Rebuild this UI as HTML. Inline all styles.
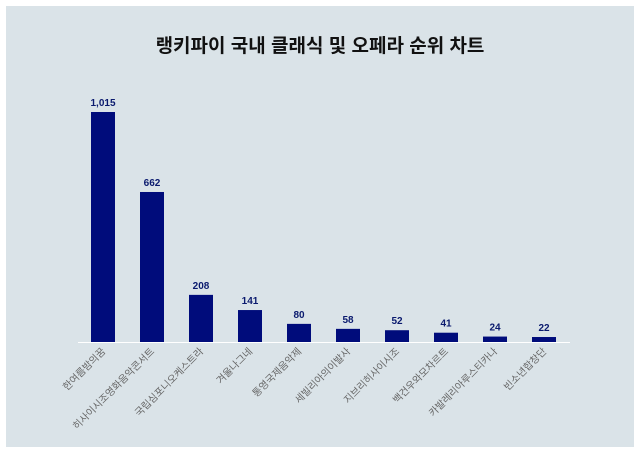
<!DOCTYPE html>
<html><head><meta charset="utf-8"><style>
html,body{margin:0;padding:0;background:#fff;}
svg{display:block;font-family:"Liberation Sans","Noto Sans CJK KR",sans-serif;}
</style></head><body>
<svg width="640" height="453">
<rect x="6" y="6" width="628" height="441" fill="#dae3e8"/>
<text x="320" y="52" text-anchor="middle" font-size="19" font-weight="bold" fill="#111">랭키파이 국내 클래식 및 오페라 순위 차트</text>
<line x1="78" y1="342.5" x2="570" y2="342.5" stroke="#fff" stroke-width="1"/>
<g id="bars"></g>
</svg>
<script>
const categories=["한여름밤의꿈","히사이시조영화음악콘서트","국립심포니오케스트라","겨울나그네","통영국제음악제","세빌리아의이발사","지브리히사이시조","백건우와모차르트","카발레리아루스티카나","빈소년합창단"];
const values=[1015,662,208,141,80,58,52,41,24,22];
const valueLabels=["1,015","662","208","141","80","58","52","41","24","22"];
const g=document.getElementById('bars');
const NS='http://www.w3.org/2000/svg';
const baseY=342,scale=230/1015;
function xCenter(i){return 103+i*49;}
function yPos(v){return baseY-v*scale;}
categories.forEach((c,i)=>{
  const cx=xCenter(i),y=yPos(values[i]);
  const r=document.createElementNS(NS,'rect');
  r.setAttribute('x',cx-12);r.setAttribute('y',y);r.setAttribute('width',24);r.setAttribute('height',baseY-y);
  r.setAttribute('fill','#000c7b');
  
  
  g.appendChild(r);
  const t=document.createElementNS(NS,'text');
  t.setAttribute('x',cx);t.setAttribute('y',y-6);t.setAttribute('text-anchor','middle');
  t.setAttribute('font-size','10');t.setAttribute('font-weight','bold');t.setAttribute('fill','#0a1a6e');
  t.textContent=valueLabels[i];
  
  
  g.appendChild(t);
  const l=document.createElementNS(NS,'text');
  l.setAttribute('transform','translate('+(cx+3)+','+(baseY+10)+') rotate(-45)');
  l.setAttribute('text-anchor','end');l.setAttribute('font-size','10');l.setAttribute('fill','#666');
  l.textContent=c;
  
  
  g.appendChild(l);
});
</script>
</body></html>
